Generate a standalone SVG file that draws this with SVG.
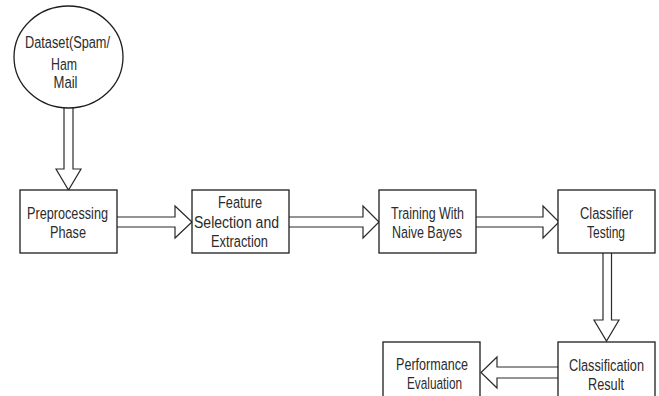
<svg xmlns="http://www.w3.org/2000/svg" width="659" height="396" viewBox="0 0 659 396">
<style>
.shape{fill:#fff;stroke:#1e1e1e;stroke-width:1.3}
.arrow{fill:#fff;stroke:#2a2a2a;stroke-width:1.2;stroke-linejoin:miter}
text{font-family:"Liberation Sans",Arial,sans-serif;font-size:16.8px;fill:#2b2b2b;text-anchor:middle}
</style>
<rect width="659" height="396" fill="#fff"/>
<g id="connectors">
<path class="arrow" d="M64,106 V169 H56 L68.5,190 L81,169 H73 V106"/>
<path class="arrow" d="M117,217 H175 V206 L192,222 L175,238 V227 H117"/>
<path class="arrow" d="M289,217 H363 V206 L379,222 L363,238 V227 H289"/>
<path class="arrow" d="M476,217 H543 V206 L559,222 L543,238 V227 H476"/>
<path class="arrow" d="M603,253 V320 H594 L606.5,341 L619,320 H611.5 V253"/>
<path class="arrow" d="M558,367 H497 V357 L481,372.5 L497,388 V378 H558"/>
</g>
<g id="dataset">
<ellipse class="shape" cx="68.5" cy="57" rx="54.5" ry="51"/>
<text x="67.5" y="48" textLength="85" lengthAdjust="spacingAndGlyphs">Dataset(Spam/</text>
<text x="64" y="70" textLength="26" lengthAdjust="spacingAndGlyphs">Ham</text>
<text x="65.5" y="87.5" textLength="24" lengthAdjust="spacingAndGlyphs">Mail</text>
</g>
<g id="preprocessing">
<rect class="shape" x="20" y="190" width="97" height="63"/>
<text x="67.5" y="219" textLength="81" lengthAdjust="spacingAndGlyphs">Preprocessing</text>
<text x="68" y="238" textLength="36" lengthAdjust="spacingAndGlyphs">Phase</text>
</g>
<g id="feature">
<rect class="shape" x="192" y="190" width="97" height="63"/>
<text x="240" y="208" textLength="44" lengthAdjust="spacingAndGlyphs">Feature</text>
<text x="236.5" y="228" textLength="85" lengthAdjust="spacingAndGlyphs">Selection and</text>
<text x="239.5" y="247" textLength="57" lengthAdjust="spacingAndGlyphs">Extraction</text>
</g>
<g id="training">
<rect class="shape" x="379" y="190" width="97" height="63"/>
<text x="427.5" y="219" textLength="73" lengthAdjust="spacingAndGlyphs">Training With</text>
<text x="427" y="238" textLength="70" lengthAdjust="spacingAndGlyphs">Naive Bayes</text>
</g>
<g id="testing">
<rect class="shape" x="558" y="190" width="97" height="63"/>
<text x="606.5" y="219" textLength="53" lengthAdjust="spacingAndGlyphs">Classifier</text>
<text x="606" y="238" textLength="38" lengthAdjust="spacingAndGlyphs">Testing</text>
</g>
<g id="result">
<rect class="shape" x="558" y="342" width="97" height="63"/>
<text x="606.5" y="371" textLength="75" lengthAdjust="spacingAndGlyphs">Classification</text>
<text x="606" y="390" textLength="36" lengthAdjust="spacingAndGlyphs">Result</text>
</g>
<g id="performance">
<rect class="shape" x="383" y="342" width="97" height="63"/>
<text x="432" y="370" textLength="72" lengthAdjust="spacingAndGlyphs">Performance</text>
<text x="434.5" y="389" textLength="55" lengthAdjust="spacingAndGlyphs">Evaluation</text>
</g>
</svg>
